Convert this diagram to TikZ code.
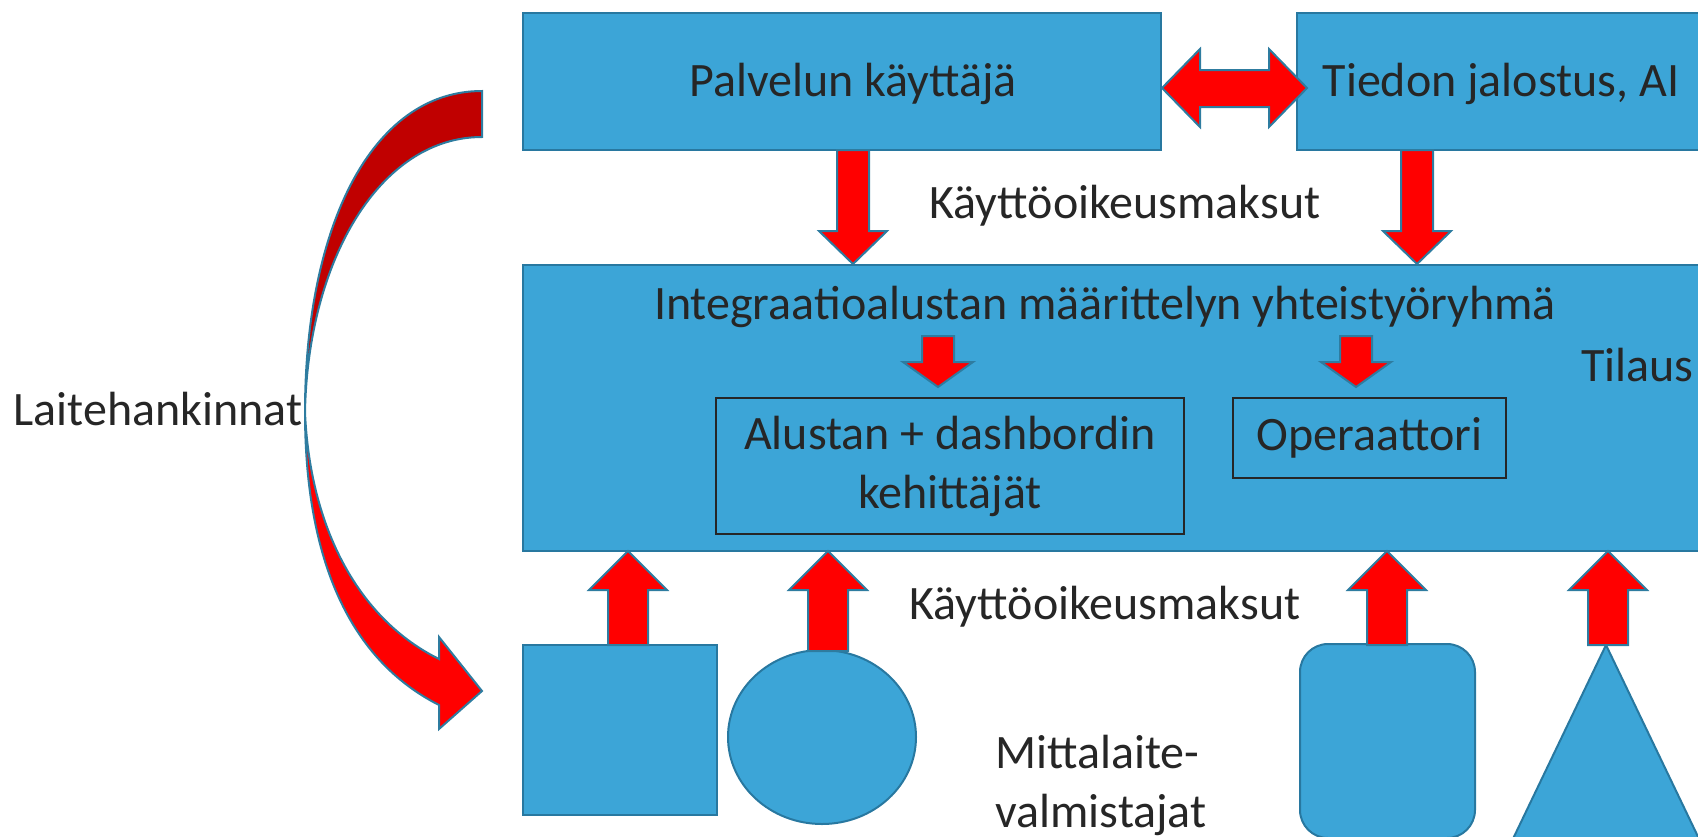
\documentclass[tikz,border=0pt]{standalone}
\usepackage{fontspec}
\setmainfont{Carlito}
\usetikzlibrary{shapes.geometric}
\definecolor{boxfill}{RGB}{60,165,215}
\definecolor{boxline}{RGB}{40,120,160}
\definecolor{arrline}{RGB}{46,124,160}
\definecolor{darkred}{RGB}{192,0,0}
\definecolor{txt}{RGB}{38,38,38}
\newcommand\blockv[6]{\draw[redarrow] ({#1-#5},#2) -- ({#1+#5},#2) -- ({#1+#5},#3) -- ({#1+#6},#3) -- (#1,#4) -- ({#1-#6},#3) -- ({#1-#5},#3) -- cycle;}
\begin{document}
\begin{tikzpicture}[x=0.5pt,y=-0.5pt, font=\fontsize{24pt}{29.5pt}\selectfont, text=txt,
 box/.style={draw=boxline, line width=1pt, fill=boxfill, inner sep=0pt},
 inbox/.style={draw=txt, line width=0.8pt, inner sep=0pt, align=center},
 redarrow/.style={draw=arrline, line width=1pt, fill=red, line join=miter},
 lbl/.style={inner sep=0pt, align=center}]
\useasboundingbox (0,0) rectangle (1698,836);
\clip (0,0) rectangle (1698,836);
% top boxes
\node[box, minimum width=319pt, minimum height=68.5pt] (pal) at (842,81.5) {};
\node[lbl] (palt) at (853,84) {Palvelun käyttäjä};
\node[box, minimum width=211.5pt, minimum height=68.5pt] (tie) at (1508.5,81.5) {};
\node[lbl] (tiet) at (1501,84) {Tiedon jalostus, AI};
% integration box
\node[box, minimum width=598.5pt, minimum height=143pt] (int) at (1121.5,408) {};
\node[lbl] (intl) at (1105,307) {Integraatioalustan määrittelyn yhteistyöryhmä};
\node[lbl, anchor=east] (til) at (1694,365) {Tilaus};
\node[inbox, minimum width=234pt, minimum height=68pt] (alu) at (950,466) {Alustan + dashbordin\\kehittäjät};
\node[inbox, minimum width=136.5pt, minimum height=40pt] (ope) at (1369.5,438) {Operaattori};
% labels
\node[lbl] (kay1) at (1125,206) {Käyttöoikeusmaksut};
\node[lbl] (kay2) at (1105,607) {Käyttöoikeusmaksut};
\node[lbl, align=left] (mitt) at (1101,785) {Mittalaite-\\valmistajat};
\node[lbl] (lait) at (158,409) {Laitehankinnat};
% device shapes
\node[box, minimum width=97pt, minimum height=85pt] (sq) at (620,730) {};
\node[box, ellipse, minimum width=94pt, minimum height=87pt] (circ) at (822,737) {};
\node[box, rounded corners=14pt, minimum width=87.5pt, minimum height=97pt] (rr) at (1387.5,741) {};
\draw[box] (1606,645) coordinate (tri) -- (1702,845) -- (1510,845) -- cycle;
% block arrows
\draw[redarrow] (1162,88) -- (1200,49) -- (1200,70) -- (1269,70) -- (1269,49) -- (1307,88) -- (1269,127) -- (1269,107) -- (1200,107) -- (1200,127) -- cycle;
\blockv{853}{150}{231}{264}{16}{34}
\blockv{1417}{150}{231}{264}{16}{34}
\blockv{938}{336}{362}{387}{16}{35}
\blockv{1356}{336}{362}{387}{16}{35}
\blockv{628}{645}{590}{551}{20}{39}
\blockv{828}{651}{590}{551}{20}{39}
\blockv{1387}{645}{590}{551}{20}{39}
\blockv{1608}{645}{590}{551}{20}{39}
% curved arrow
\fill[darkred] (482,91) .. controls (370,91) and (305,230) .. (305,412) .. controls (308,260) and (380,137) .. (482,137) -- cycle;
\fill[red] (305,412) .. controls (305,560) and (350,660) .. (439,705) -- (439,729) -- (482,691) -- (439,637) -- (439,659) .. controls (360,620) and (310,530) .. (305,412) -- cycle;
\draw[arrline, line width=1pt, line join=miter] (482,91) .. controls (370,91) and (305,230) .. (305,412) .. controls (305,560) and (350,660) .. (439,705) -- (439,729) -- (482,691) -- (439,637) -- (439,659) .. controls (360,620) and (310,530) .. (305,412) .. controls (308,260) and (380,137) .. (482,137) -- cycle;
\end{tikzpicture}
\end{document}
